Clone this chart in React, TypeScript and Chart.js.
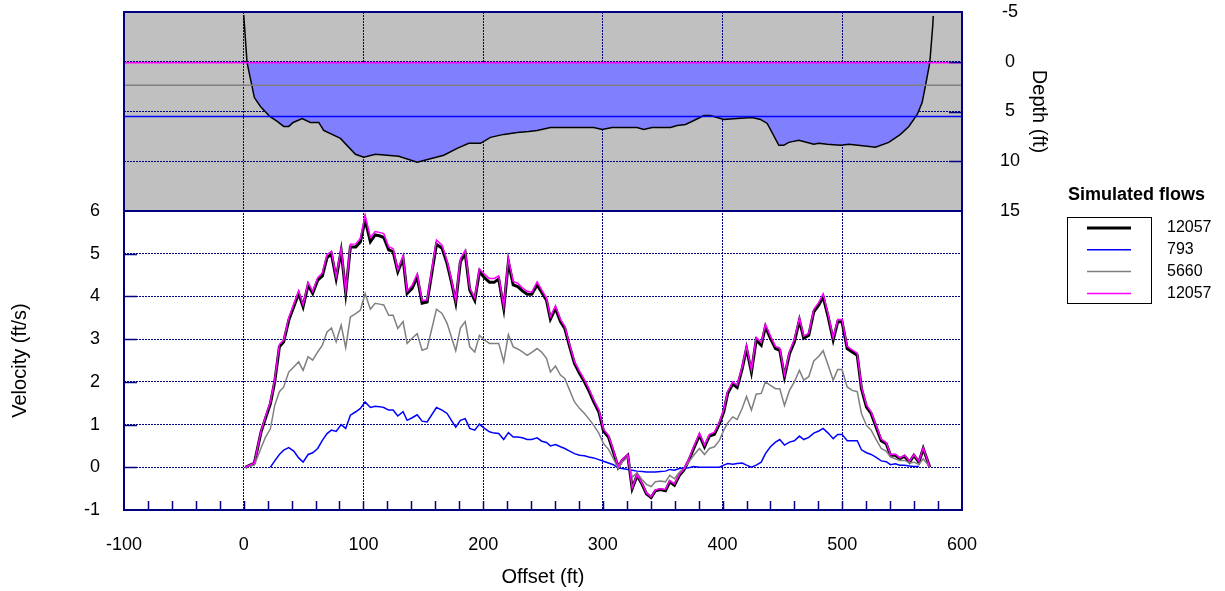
import React, { useEffect, useRef } from 'react';
import { Chart, registerables } from 'chart.js';

Chart.register(...registerables);

// ---------- DATA ----------
const OFFSETS: number[] = [
  1.4, 8.9, 14.5, 18.1, 22.3, 25.9, 29.8, 33.4, 37.6, 41.8,
  45.9, 49.6, 53.8, 57.6, 61.8, 65.7, 69.6, 73.3, 77.2, 81.4,
  85.2, 89.1, 93.6, 97.5, 101.4, 105.8, 109.8, 113.4, 117, 121.1,
  124.8, 128.7, 133.1, 136.5, 140.7, 144.9, 149, 153.2, 161, 165.7,
  169.9, 173.5, 177.1, 181, 185, 188.8, 193, 196.9, 201.1, 205.3,
  209.2, 213, 217.2, 221.1, 225.1, 228.9, 232.8, 236.8, 240.6, 245.1,
  249, 252.9, 256.2, 260.4, 264.6, 268.2, 272.3, 276.3, 280.5, 284.6,
  288.2, 292.4, 296.6, 300.5, 304.7, 308.8, 312.8, 316.1, 320.8, 324.5,
  328.6, 332.8, 336.4, 340.3, 343.9, 348.1, 352.3, 355.9, 359.8, 364,
  367.6, 371.8, 375.9, 380.7, 384.9, 389, 393.2, 397.4, 401, 404.3,
  408.5, 412.2, 416.4, 420, 424.1, 428.1, 432.3, 435.8, 440, 444.2,
  447.8, 451.7, 455.9, 460, 464.2, 467.8, 472, 476.2, 480.4, 484,
  488.2, 492.4, 496.2, 499.8, 504.1, 508.3, 512.5, 516, 520.2, 524.1,
  528.3, 532.5, 536.7, 540.3, 544.4, 548, 552, 556.2, 559.8, 564,
  567.6, 573.1,
];

const VEL_12057: number[] = [
  0.0, 0.1, 0.83, 1.14, 1.49, 2.0, 2.82, 2.94, 3.44, 3.76,
  4.07, 3.76, 4.27, 4.07, 4.38, 4.48, 4.91, 4.99, 4.42, 5.07,
  4.09, 5.16, 5.16, 5.28, 5.79, 5.28, 5.44, 5.42, 5.38, 5.09,
  5.05, 4.58, 4.89, 4.07, 4.19, 4.46, 3.84, 3.87, 5.22, 5.13,
  4.77, 4.34, 3.86, 4.81, 5.01, 4.15, 3.91, 4.58, 4.44, 4.33,
  4.33, 4.41, 3.72, 4.81, 4.27, 4.23, 4.13, 4.05, 4.05, 4.27,
  4.09, 3.91, 3.47, 3.72, 3.41, 3.25, 2.82, 2.43, 2.2, 2.0,
  1.8, 1.53, 1.3, 0.85, 0.71, 0.36, 0.0, 0.16, 0.28, -0.5,
  -0.19, -0.4, -0.62, -0.71, -0.55, -0.52, -0.55, -0.34, -0.42, -0.19,
  -0.07, 0.16, 0.44, 0.75, 0.48, 0.73, 0.77, 1.02, 1.3, 1.73,
  1.95, 1.87, 2.31, 2.78, 2.23, 2.98, 2.86, 3.29, 3.02, 2.78,
  2.74, 2.12, 2.66, 2.94, 3.44, 3.02, 3.09, 3.64, 3.8, 3.99,
  3.52, 2.98, 3.41, 3.41, 2.78, 2.7, 2.62, 1.84, 1.41, 1.26,
  0.94, 0.62, 0.55, 0.28, 0.28, 0.2, 0.26, 0.12, 0.28, 0.12,
  0.44, 0.0,
];

const VEL_793: (number | null)[] = [
  null, null, null, null, 0.0, 0.15, 0.3, 0.4, 0.46, 0.38,
  0.22, 0.12, 0.3, 0.34, 0.44, 0.63, 0.79, 0.87, 0.84, 1.0,
  0.91, 1.22, 1.3, 1.38, 1.53, 1.4, 1.43, 1.42, 1.4, 1.34,
  1.34, 1.2, 1.3, 1.1, 1.16, 1.23, 1.08, 1.06, 1.4, 1.34,
  1.26, 1.1, 0.94, 1.1, 1.14, 0.91, 0.87, 1.01, 0.91, 0.83,
  0.8, 0.79, 0.65, 0.81, 0.71, 0.71, 0.69, 0.65, 0.65, 0.69,
  0.61, 0.58, 0.5, 0.53, 0.48, 0.44, 0.38, 0.32, 0.28, 0.27,
  0.24, 0.22, 0.18, 0.14, 0.1, 0.06, -0.02, -0.03, -0.05, -0.07,
  -0.09, -0.1, -0.11, -0.11, -0.11, -0.1, -0.09, -0.05, -0.07, -0.03,
  -0.02, -0.01, 0.02, 0.0, 0.0, 0.0, 0.0, 0.0, 0.05, 0.09,
  0.07, 0.09, 0.1, 0.05, 0.0, 0.05, 0.12, 0.32, 0.48, 0.59,
  0.65, 0.52, 0.59, 0.62, 0.73, 0.65, 0.7, 0.8, 0.85, 0.91,
  0.8, 0.67, 0.77, 0.77, 0.62, 0.62, 0.62, 0.41, 0.34, 0.3,
  0.23, 0.15, 0.13, 0.06, 0.08, 0.05, 0.05, 0.03, 0.02, 0.02,
  null, null,
];

const VEL_5660: number[] = [
  0.0, 0.05, 0.45, 0.7, 0.9, 1.45, 1.77, 1.88, 2.23, 2.35,
  2.47, 2.27, 2.59, 2.51, 2.7, 2.86, 3.17, 3.26, 2.94, 3.33,
  2.8, 3.52, 3.6, 3.68, 4.07, 3.7, 3.84, 3.82, 3.8, 3.56,
  3.56, 3.25, 3.41, 2.9, 3.02, 3.13, 2.74, 2.78, 3.7, 3.6,
  3.37, 3.05, 2.73, 3.26, 3.41, 2.82, 2.7, 3.09, 2.98, 2.9,
  2.9, 2.9, 2.47, 3.11, 2.82, 2.77, 2.7, 2.62, 2.69, 2.78,
  2.69, 2.55, 2.23, 2.37, 2.16, 2.08, 1.8, 1.53, 1.38, 1.26,
  1.14, 0.98, 0.8, 0.56, 0.42, 0.2, -0.03, 0.12, 0.24, -0.23,
  -0.13, -0.29, -0.4, -0.45, -0.34, -0.32, -0.34, -0.19, -0.27, -0.11,
  -0.03, 0.12, 0.28, 0.44, 0.3, 0.44, 0.48, 0.63, 0.87, 1.04,
  1.18, 1.12, 1.38, 1.66, 1.34, 1.71, 1.73, 2.0, 1.92, 1.84,
  1.84, 1.45, 1.8, 2.0, 2.27, 2.04, 2.12, 2.49, 2.6, 2.73,
  2.39, 2.04, 2.29, 2.29, 1.88, 1.8, 1.77, 1.26, 0.98, 0.87,
  0.65, 0.44, 0.38, 0.24, 0.2, 0.16, 0.16, 0.1, 0.12, 0.07,
  0.2, 0.0,
];

const VEL_12057_B: number[] = [
  0.0, 0.1, 0.85, 1.18, 1.53, 2.05, 2.88, 2.98, 3.5, 3.82,
  4.13, 3.8, 4.33, 4.12, 4.44, 4.55, 4.98, 5.06, 4.46, 5.13,
  4.12, 5.22, 5.23, 5.36, 5.9, 5.38, 5.52, 5.5, 5.47, 5.16,
  5.12, 4.62, 4.96, 4.12, 4.26, 4.53, 3.9, 3.92, 5.32, 5.2,
  4.83, 4.39, 3.9, 4.88, 5.08, 4.2, 3.96, 4.65, 4.52, 4.42,
  4.42, 4.48, 3.76, 4.88, 4.35, 4.31, 4.2, 4.12, 4.1, 4.34,
  4.15, 3.96, 3.52, 3.78, 3.46, 3.3, 2.87, 2.48, 2.25, 2.05,
  1.85, 1.58, 1.35, 0.9, 0.75, 0.4, 0.02, 0.18, 0.3, -0.48,
  -0.17, -0.38, -0.6, -0.69, -0.53, -0.5, -0.52, -0.31, -0.39, -0.16,
  -0.04, 0.19, 0.48, 0.8, 0.52, 0.77, 0.82, 1.06, 1.35, 1.78,
  2.0, 1.92, 2.36, 2.84, 2.28, 3.04, 2.92, 3.35, 3.07, 2.83,
  2.79, 2.17, 2.71, 3.0, 3.5, 3.07, 3.14, 3.7, 3.86, 4.06,
  3.58, 3.03, 3.46, 3.46, 2.83, 2.75, 2.67, 1.89, 1.46, 1.3,
  0.98, 0.66, 0.58, 0.3, 0.3, 0.22, 0.28, 0.14, 0.3, 0.14,
  0.46, 0.0,
];

const BED_OFFSET: number[] = [
  0, 2.8, 8.9, 14, 21.8, 28, 33.4, 37.6, 41.3, 48.8,
  55.7, 62.7, 66.8, 80.8, 93.3, 100.3, 110, 119.8, 129.5, 144.9,
  167.1, 178.3, 188, 197.8, 206.1, 217.2, 228.4, 238.1, 245, 256.3,
  292.4, 299.4, 307.8, 328.6, 334.2, 341.2, 356.5, 362.1, 369, 376,
  384.3, 389.9, 401, 412.2, 424.7, 431.6, 437.3, 447, 451.1, 455.3,
  463.7, 476.2, 480.4, 487.4, 498.5, 505.5, 520.8, 527.7, 538.8, 548.6,
  555.6, 562.6, 566.7, 569.5, 573.1, 575.6, 576,
];
const BED_DEPTH: number[] = [
  -4.7, 0.1, 3.6, 4.5, 5.5, 6.0, 6.5, 6.5, 6.1, 5.7,
  6.1, 6.1, 6.9, 7.7, 9.3, 9.6, 9.3, 9.4, 9.5, 10.1,
  9.4, 8.7, 8.2, 8.2, 7.6, 7.3, 7.1, 7.0, 6.9, 6.6,
  6.6, 6.8, 6.6, 6.6, 6.8, 6.6, 6.6, 6.4, 6.3, 5.9,
  5.4, 5.4, 5.8, 5.7, 5.6, 5.8, 6.2, 8.4, 8.4, 8.1,
  7.9, 8.3, 8.2, 8.3, 8.4, 8.3, 8.5, 8.6, 8.1, 7.3,
  6.5, 5.3, 4.1, 2.4, 0.1, -3.7, -4.6,
];

// water-surface depths for each flow
const SURFACE_X: number[] = [-100, 600];
const SURFACE_12057 = 0.1;
const SURFACE_5660 = 2.35;
const SURFACE_793 = 5.5;

const FLOW_LABELS: string[] = ['12057', '793', '5660', '12057'];
const LEGEND_TITLE = 'Simulated flows';
const X_TITLE = 'Offset (ft)';
const Y_TITLE = 'Velocity (ft/s)';
const Y2_TITLE = 'Depth (ft)';

// ---------- STYLE ----------
const NAVY = '#000080';
const FONT = "'Liberation Sans', Arial, Helvetica, sans-serif";
const C_BLACK = '#000000';
const C_BLUE = '#0000FF';
const C_GRAY = '#808080';
const C_MAGENTA = '#FF00FF';
const GRID_DASH = [2, 1];

const pts = (xs: number[], ys: (number | null)[]) => xs.map((x, i) => ({ x, y: ys[i] }));

const noPadV = (w: number) => (s: any) => {
  s.width = w;
  s.paddingTop = 0;
  s.paddingBottom = 0;
};

const decorPlugin = {
  id: 'decor',
  beforeDraw(chart: any) {
    const { ctx, chartArea: a, scales } = chart;
    const d = scales.depth;
    const yTop = d.getPixelForValue(-5);
    const yBot = d.getPixelForValue(15);
    ctx.save();
    ctx.fillStyle = '#C0C0C0';
    ctx.fillRect(a.left, yTop, a.right - a.left, yBot - yTop);
    ctx.restore();
  },
  afterDatasetsDraw(chart: any) {
    const { ctx, chartArea: a, scales } = chart;
    const x = scales.x;
    const d = scales.depth;
    const v = scales.yv;
    ctx.save();
    ctx.strokeStyle = NAVY;
    // minor ticks on x axis (inside)
    ctx.lineWidth = 1.5;
    for (let t = -80; t < 600; t += 20) {
      const px = Math.round(x.getPixelForValue(t)) + 0.5;
      ctx.beginPath();
      ctx.moveTo(px, a.bottom);
      ctx.lineTo(px, a.bottom - 9);
      ctx.stroke();
    }
    // inner major ticks for velocity (left) and depth (right)
    for (let t = 0; t <= 5; t++) {
      const py = Math.round(v.getPixelForValue(t)) + 0.5;
      ctx.beginPath();
      ctx.moveTo(a.left, py);
      ctx.lineTo(a.left + 13, py);
      ctx.stroke();
    }
    for (let t = 0; t <= 10; t += 5) {
      const py = Math.round(d.getPixelForValue(t)) + 0.5;
      ctx.beginPath();
      ctx.moveTo(a.right, py);
      ctx.lineTo(a.right - 13, py);
      ctx.stroke();
    }
    // frame and panel divider
    ctx.lineWidth = 2;
    ctx.strokeRect(a.left, a.top, a.right - a.left, a.bottom - a.top);
    const yDiv = d.getPixelForValue(15);
    ctx.beginPath();
    ctx.moveTo(a.left, yDiv);
    ctx.lineTo(a.right, yDiv);
    ctx.stroke();
    ctx.restore();
  },
  afterDraw(chart: any) {
    const { ctx, chartArea: a } = chart;
    const items = chart.data.datasets.filter((ds: any) => ds.yAxisID === 'yv');
    const lx = a.right + 105;
    ctx.save();
    ctx.fillStyle = '#000';
    ctx.textBaseline = 'middle';
    ctx.textAlign = 'left';
    ctx.font = `bold 18px ${FONT}`;
    ctx.fillText(LEGEND_TITLE, lx + 1, 195);
    ctx.strokeStyle = '#000';
    ctx.lineWidth = 1;
    ctx.strokeRect(lx + 0.5, 217.5, 84, 86);
    ctx.font = `16px ${FONT}`;
    items.forEach((ds: any, i: number) => {
      const y = 228 + i * 21.8;
      ctx.strokeStyle = ds.borderColor;
      ctx.lineWidth = ds.borderWidth;
      ctx.beginPath();
      ctx.moveTo(lx + 20, y);
      ctx.lineTo(lx + 64, y);
      ctx.stroke();
      ctx.fillText(ds.label, lx + 100, y);
    });
    ctx.restore();
  },
};

export default function App() {
  const ref = useRef<HTMLCanvasElement>(null);
  useEffect(() => {
    Chart.defaults.font.family = FONT;
    Chart.defaults.color = '#000';
    const common = { pointRadius: 0, tension: 0, fill: false, xAxisID: 'x' };
    const chart = new Chart(ref.current as HTMLCanvasElement, {
      type: 'line',
      data: {
        datasets: [
          { ...common, label: FLOW_LABELS[0], data: pts(OFFSETS, VEL_12057), yAxisID: 'yv', borderColor: C_BLACK, borderWidth: 3, order: 3 },
          { ...common, label: FLOW_LABELS[1], data: pts(OFFSETS, VEL_793), yAxisID: 'yv', borderColor: C_BLUE, borderWidth: 1.5, order: 2 },
          { ...common, label: FLOW_LABELS[2], data: pts(OFFSETS, VEL_5660), yAxisID: 'yv', borderColor: C_GRAY, borderWidth: 1.5, order: 1 },
          { ...common, label: FLOW_LABELS[3], data: pts(OFFSETS, VEL_12057_B), yAxisID: 'yv', borderColor: C_MAGENTA, borderWidth: 1.5, order: 0 },
          { ...common, label: 'ws793', data: pts(SURFACE_X, [SURFACE_793, SURFACE_793]), yAxisID: 'depth', borderColor: C_BLUE, borderWidth: 1.5, order: 4 },
          { ...common, label: 'ws5660', data: pts(SURFACE_X, [SURFACE_5660, SURFACE_5660]), yAxisID: 'depth', borderColor: C_GRAY, borderWidth: 1.5, order: 5 },
          { ...common, label: 'ws12057', data: pts(SURFACE_X, [SURFACE_12057, SURFACE_12057]), yAxisID: 'depth', borderColor: C_MAGENTA, borderWidth: 1.5, order: 6 },
          {
            ...common,
            label: 'bed',
            data: pts(BED_OFFSET, BED_DEPTH),
            yAxisID: 'depth',
            borderColor: C_BLACK,
            borderWidth: 1.5,
            fill: { target: { value: SURFACE_12057 }, above: 'rgba(0,0,0,0)', below: '#8080FF' },
            order: 7,
          },
        ] as any,
      },
      options: {
        animation: false,
        responsive: true,
        maintainAspectRatio: false,
        events: [],
        layout: { autoPadding: false, padding: { top: 12, right: 174, left: 0, bottom: 0 } },
        plugins: { legend: { display: false }, tooltip: { enabled: false } },
        scales: {
          x: {
            type: 'linear',
            position: 'bottom',
            min: -100,
            max: 600,
            ticks: { stepSize: 100, padding: 24, maxRotation: 0, font: { size: 18 }, color: '#000' },
            grid: { color: NAVY, lineWidth: 1, drawTicks: false },
            border: { display: false, dash: GRID_DASH },
            title: { display: true, text: X_TITLE, font: { size: 20 }, color: '#000', padding: { top: 0, bottom: 2 } },
            afterFit: (s: any) => { s.height = 81; s.paddingLeft = 0; s.paddingRight = 0; },
          },
          yv: {
            type: 'linear',
            position: 'left',
            stack: 'L',
            stackWeight: 299,
            weight: 0,
            min: -1,
            max: 6,
            ticks: { stepSize: 1, padding: 24, font: { size: 18 }, color: '#000' },
            grid: { color: NAVY, lineWidth: 1, drawTicks: false },
            border: { display: false, dash: GRID_DASH },
            title: { display: true, text: Y_TITLE, font: { size: 20 }, color: '#000', padding: { top: 8, bottom: 0 } },
            afterFit: noPadV(124),
          },
          yTopL: {
            type: 'linear',
            position: 'left',
            stack: 'L',
            stackWeight: 199,
            weight: 1,
            display: false,
          },
          depth: {
            type: 'linear',
            position: 'right',
            stack: 'R',
            stackWeight: 199,
            weight: 0,
            reverse: true,
            min: -5,
            max: 15,
            ticks: { stepSize: 5, padding: 38, crossAlign: 'center', font: { size: 18 }, color: '#000' },
            grid: { color: NAVY, lineWidth: 1, drawTicks: false },
            border: { display: false, dash: GRID_DASH },
            title: { display: true, text: Y2_TITLE, font: { size: 20 }, color: '#000', padding: { top: 0, bottom: 0 } },
            afterFit: noPadV(89),
          },
          yBotR: {
            type: 'linear',
            position: 'right',
            stack: 'R',
            stackWeight: 299,
            weight: 1,
            display: false,
          },
        } as any,
      },
      plugins: [decorPlugin],
    });
    return () => chart.destroy();
  }, []);
  return (
    <div style={{ position: 'absolute', left: 0, top: 0, width: 1225, height: 591 }}>
      <canvas ref={ref} />
    </div>
  );
}
